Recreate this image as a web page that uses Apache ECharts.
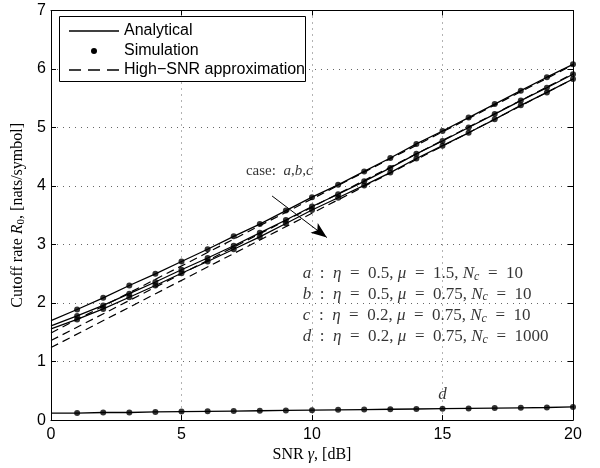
<!DOCTYPE html>
<html><head><meta charset="utf-8">
<script src="https://cdn.jsdelivr.net/npm/echarts@6/dist/echarts.min.js"></script>
<style>html,body{margin:0;padding:0;background:#fff}#c{width:600px;height:468px}</style>
</head><body><div id="c"></div>
<script>
// ---- data ----
const snrDb = [0,1,2,3,4,5,6,7,8,9,10,11,12,13,14,15,16,17,18,19,20];
const caseA = [1.70,1.89,2.09,2.30,2.50,2.71,2.92,3.14,3.35,3.58,3.81,4.02,4.25,4.48,4.72,4.94,5.17,5.40,5.63,5.86,6.08];
const caseB = [1.61,1.78,1.96,2.16,2.36,2.57,2.77,2.98,3.20,3.42,3.65,3.86,4.08,4.31,4.55,4.77,5.00,5.23,5.46,5.68,5.91];
const caseC = [1.56,1.72,1.90,2.10,2.30,2.51,2.71,2.92,3.13,3.36,3.59,3.80,4.01,4.23,4.47,4.69,4.91,5.14,5.38,5.60,5.83];
const caseD = [0.12,0.12,0.13,0.13,0.14,0.145,0.15,0.155,0.16,0.165,0.17,0.175,0.18,0.185,0.19,0.195,0.20,0.205,0.21,0.215,0.225];
const approxX = [0,20];
const approxA = [1.49,6.07];
const approxB = [1.36,5.92];
const approxC = [1.24,5.83];
const legendNames = ['Analytical','Simulation','High\u2212SNR approximation'];
const caseLines = [
  '{i|a}\u2002:\u2002{i|\u03b7}\u2002=\u20020.5, {i|\u03bc}\u2002=\u20021.5, {i|N}{sub|c}\u2002=\u200210',
  '{i|b}\u2002:\u2002{i|\u03b7}\u2002=\u20020.5, {i|\u03bc}\u2002=\u20020.75, {i|N}{sub|c}\u2002=\u200210',
  '{i|c}\u2002:\u2002{i|\u03b7}\u2002=\u20020.2, {i|\u03bc}\u2002=\u20020.75, {i|N}{sub|c}\u2002=\u200210',
  '{i|d}\u2002:\u2002{i|\u03b7}\u2002=\u20020.2, {i|\u03bc}\u2002=\u20020.75, {i|N}{sub|c}\u2002=\u20021000'
];
const caseLineAnchors = [[9.65,2.50],[9.65,2.15],[9.65,1.78],[9.65,1.42]];
const caseTagAnchor = [7.47,4.26];
const dTagAnchor = [15,0.43];
const arrowFrom = [8.47,3.83];
const arrowTo = [10.57,3.12];

const serif = 'Liberation Serif';
const sans = 'Liberation Sans';
const richMath = {
  i: {fontFamily: serif, fontSize: 17, fontStyle: 'italic', color: '#000'},
  sub: {fontFamily: serif, fontSize: 12, fontStyle: 'italic', color: '#000', verticalAlign: 'bottom', padding: [6,0,0,0]}
};

const pairs = (xs, ys) => xs.map((x, i) => [x, ys[i]]);
const solid = {color: '#000', width: 1.3, type: 'solid'};
const dashed = {color: '#000', width: 1.2, type: [8,5]};

const series = [];
[caseA, caseB, caseC, caseD].forEach(arr => {
  series.push({type: 'line', data: pairs(snrDb, arr), symbol: 'none', lineStyle: solid, silent: true, z: 3, animation: false});
});
[approxA, approxB, approxC].forEach(arr => {
  series.push({type: 'line', data: pairs(approxX, arr), symbol: 'none', lineStyle: dashed, silent: true, z: 2, animation: false});
});
[caseA, caseB, caseC, caseD].forEach(arr => {
  series.push({type: 'scatter', data: pairs(snrDb, arr).slice(1), symbol: 'circle', symbolSize: 6,
    itemStyle: {color: '#000'}, silent: true, z: 4, animation: false});
});
// annotations
series.push({
  type: 'scatter', symbolSize: 0, silent: true, animation: false, z: 6,
  data: caseLineAnchors.map((p, k) => ({value: p, label: {formatter: caseLines[k]}})),
  label: {show: true, position: 'right', distance: 0, fontFamily: serif, fontSize: 17, color: '#000', rich: richMath},
  markLine: {
    silent: true, animation: false, symbol: ['none','arrow'], symbolSize: [9,16],
    lineStyle: {color: '#000', width: 1, type: 'solid'}, label: {show: false},
    data: [[{coord: arrowFrom}, {coord: arrowTo}]]
  }
});
series.push({
  type: 'scatter', symbolSize: 0, silent: true, animation: false, z: 6,
  data: [{value: caseTagAnchor, label: {formatter: 'case:\u2002{i|a},{i|b},{i|c}'}}],
  label: {show: true, position: 'right', distance: 0, fontFamily: serif, fontSize: 15, color: '#000', rich: {
    i: {fontFamily: serif, fontSize: 15, fontStyle: 'italic', color: '#000'}}}
});
series.push({
  type: 'scatter', symbolSize: 0, silent: true, animation: false, z: 6,
  data: [{value: dTagAnchor, label: {formatter: '{i|d}'}}],
  label: {show: true, position: 'inside', rich: {i: {fontFamily: serif, fontSize: 17, fontStyle: 'italic', color: '#000'}}}
});

const gridLine = {show: true, lineStyle: {color: '#666', width: 1, type: [1,5]}};
const axLine = {show: true, onZero: false, lineStyle: {color: '#000', width: 1}};
const tick = {show: true, inside: true, length: 5, lineStyle: {color: '#000'}};
const tickLabel = {color: '#000', fontFamily: sans, fontSize: 16};

const chart = echarts.init(document.getElementById('c'), null, {renderer: 'canvas'});
chart.setOption({
  animation: false,
  backgroundColor: '#fff',
  grid: {left: 51, right: 27, top: 10.5, bottom: 47.3, containLabel: false},
  xAxis: [
    {type: 'value', min: 0, max: 20, interval: 5, position: 'bottom',
     axisLine: axLine, axisTick: tick, splitLine: gridLine,
     axisLabel: Object.assign({margin: 6}, tickLabel),
     name: 'SNR {i|\u03b3}, [dB]', nameLocation: 'middle', nameGap: 24,
     nameTextStyle: {fontFamily: serif, fontSize: 16, color: '#000',
       rich: {i: {fontFamily: serif, fontSize: 16, fontStyle: 'italic', color: '#000'}}}},
    {type: 'value', min: 0, max: 20, interval: 5, position: 'top',
     axisLine: axLine, axisTick: tick, splitLine: {show: false}, axisLabel: {show: false}}
  ],
  yAxis: [
    {type: 'value', min: 0, max: 7, interval: 1, position: 'left',
     axisLine: axLine, axisTick: tick, splitLine: gridLine,
     axisLabel: Object.assign({margin: 5}, tickLabel),
     name: 'Cutoff rate {i|R}{sub|0}, [nats/symbol]', nameLocation: 'middle', nameGap: 24,
     nameTextStyle: {fontFamily: serif, fontSize: 16, color: '#000',
       rich: {i: {fontFamily: serif, fontSize: 16, fontStyle: 'italic', color: '#000'},
              sub: {fontFamily: serif, fontSize: 11, color: '#000', verticalAlign: 'bottom', padding: [6,0,0,0]}}}},
    {type: 'value', min: 0, max: 7, interval: 1, position: 'right',
     axisLine: axLine, axisTick: tick, splitLine: {show: false}, axisLabel: {show: false}}
  ],
  series: series,
  graphic: [
    {type: 'rect', shape: {x: 59.5, y: 16.5, width: 246, height: 65}, style: {fill: '#fff', stroke: '#000', lineWidth: 1}, z: 100},
    {type: 'line', shape: {x1: 69, y1: 31, x2: 119, y2: 31}, style: {stroke: '#000', lineWidth: 1.3}, z: 101},
    {type: 'circle', shape: {cx: 94, cy: 51, r: 3}, style: {fill: '#000'}, z: 101},
    {type: 'line', shape: {x1: 69, y1: 70, x2: 119, y2: 70}, style: {stroke: '#000', lineWidth: 1.3, lineDash: [12,7]}, z: 101},
    {type: 'text', x: 124, y: 31, style: {text: legendNames[0], font: '16px ' + sans, fill: '#000', verticalAlign: 'middle'}, z: 101},
    {type: 'text', x: 124, y: 51, style: {text: legendNames[1], font: '16px ' + sans, fill: '#000', verticalAlign: 'middle'}, z: 101},
    {type: 'text', x: 124, y: 70, style: {text: legendNames[2], font: '16px ' + sans, fill: '#000', verticalAlign: 'middle'}, z: 101}
  ]
});
</script>
</body></html>
